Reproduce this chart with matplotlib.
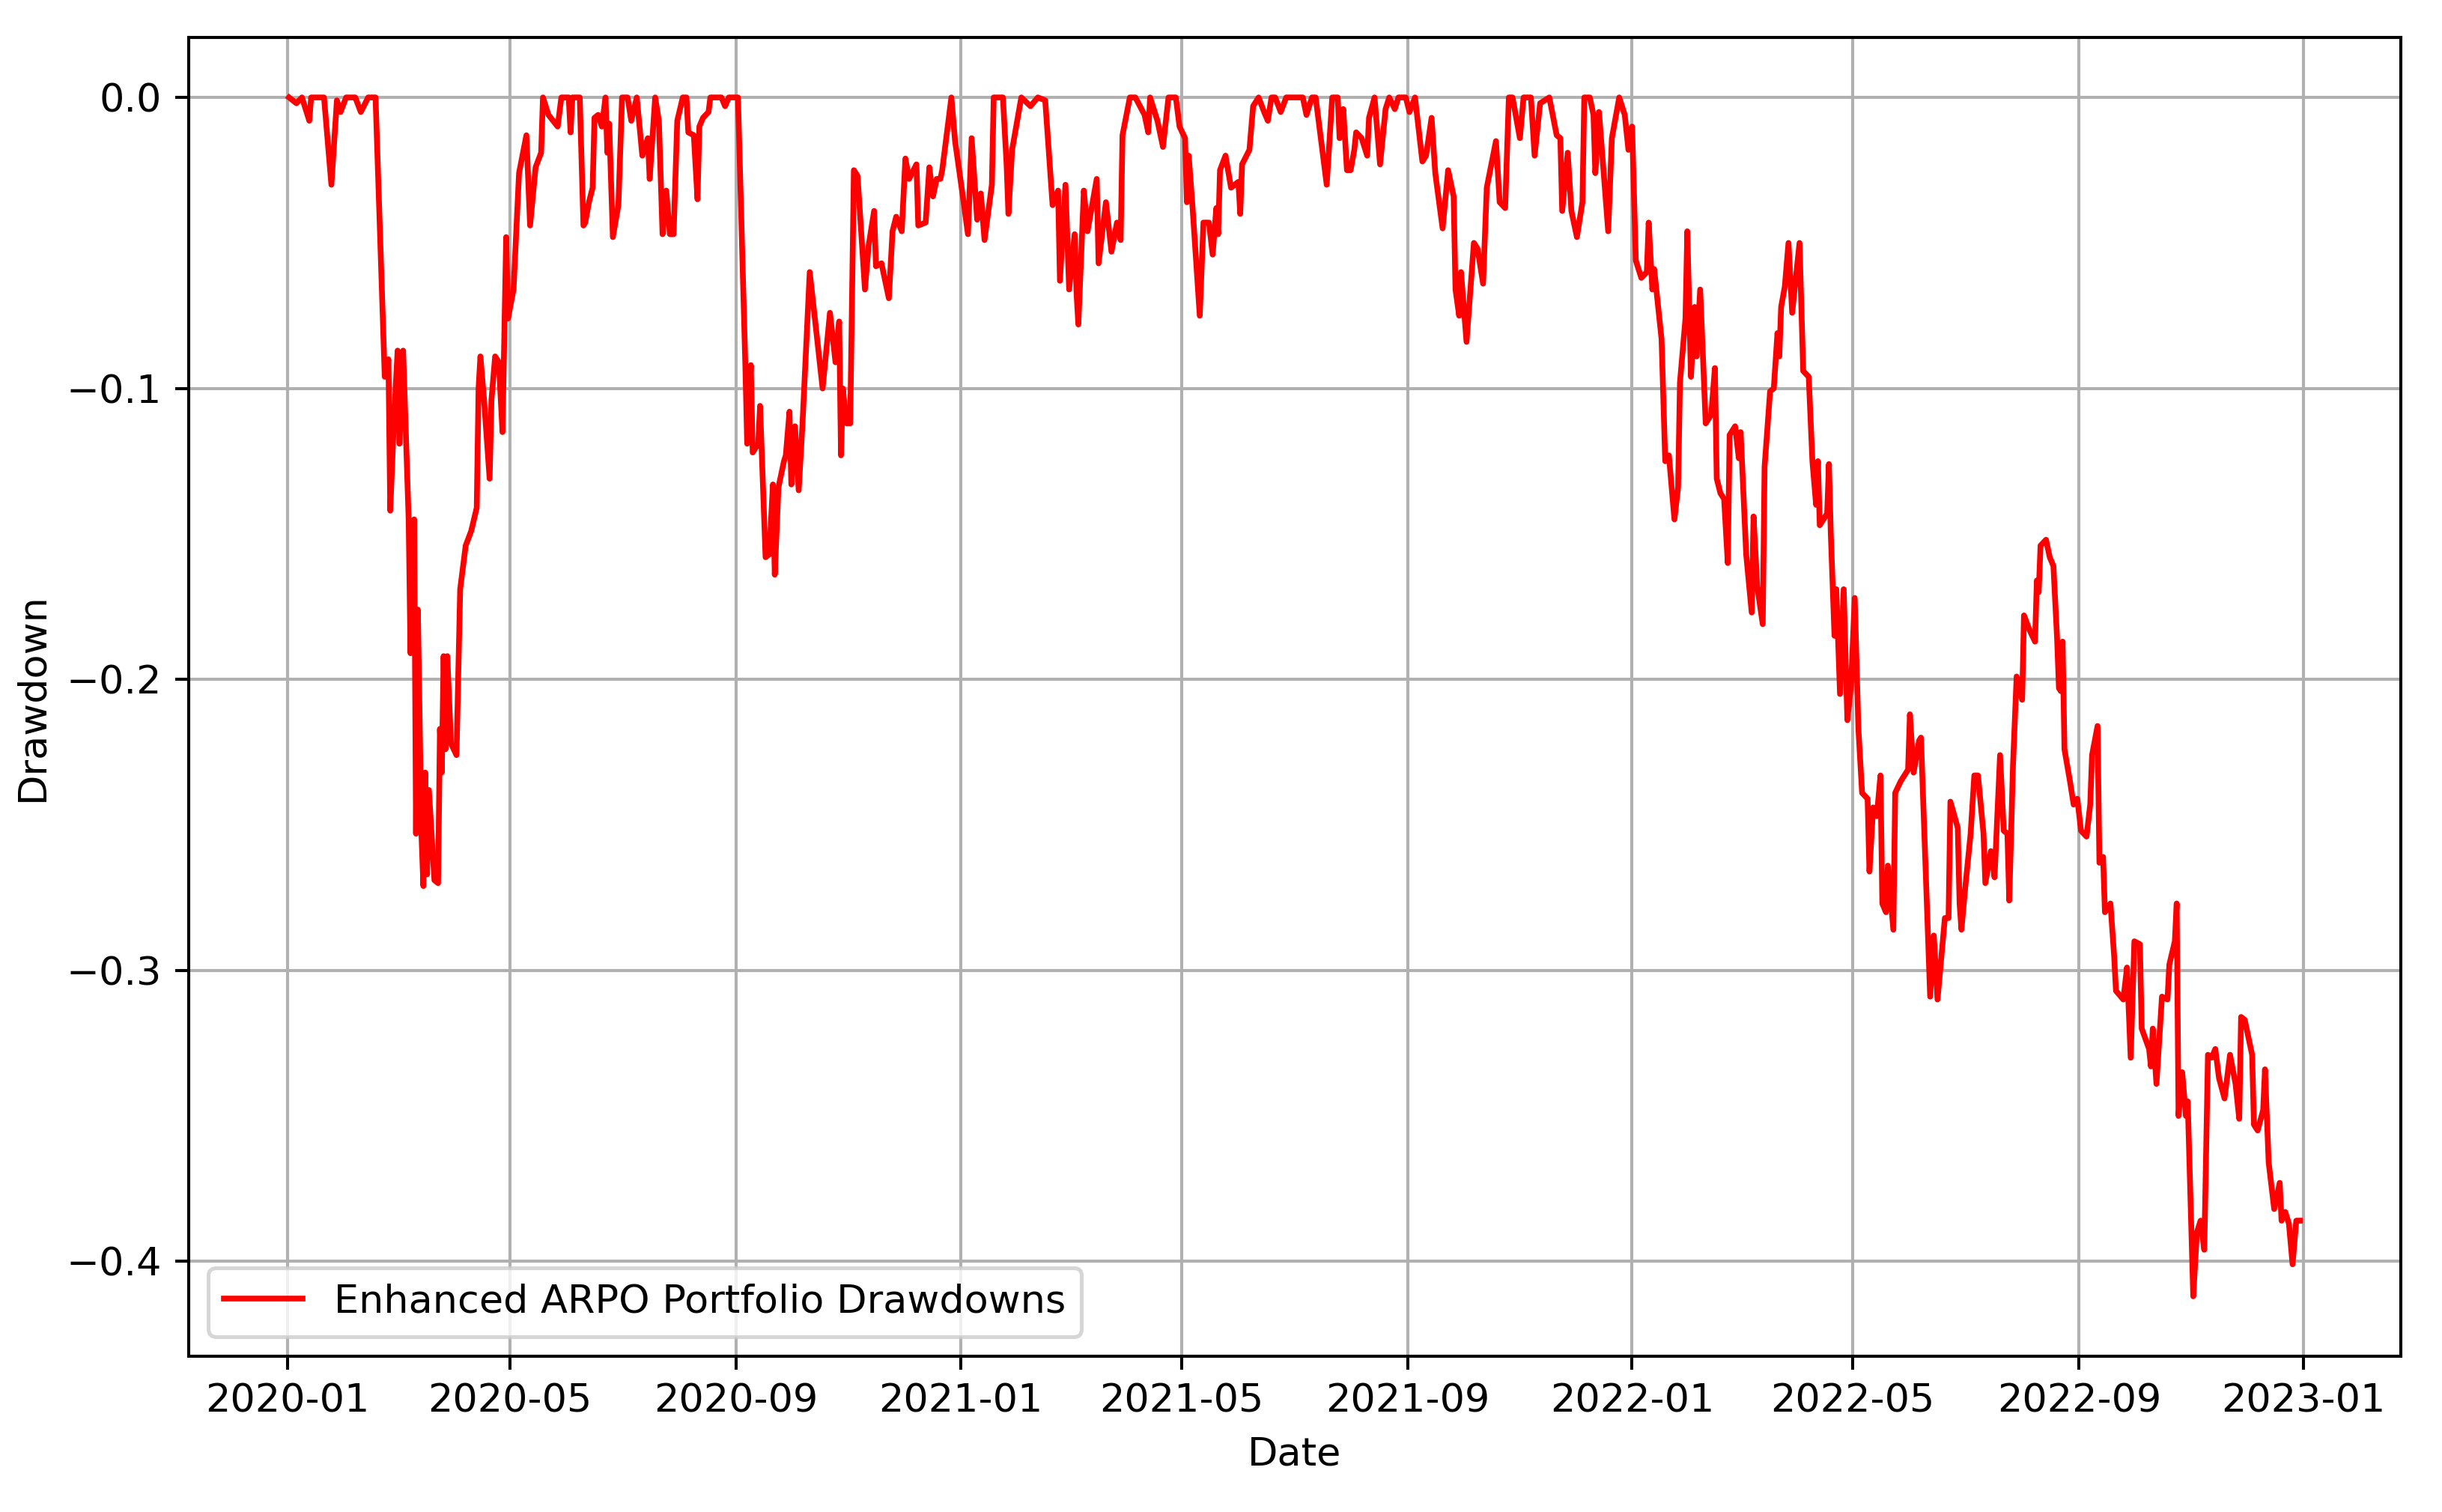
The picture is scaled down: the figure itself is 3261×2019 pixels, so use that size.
import matplotlib
matplotlib.use("Agg")
import matplotlib.pyplot as plt
import matplotlib.dates as mdates
import pandas as pd

plt.rcParams['font.size'] = 10.3

# drawdown values
dates_2020 = [
    '2020-01-02', '2020-01-06', '2020-01-09', '2020-01-13', '2020-01-14', '2020-01-21',
    '2020-01-25', '2020-01-28', '2020-01-30', '2020-02-02', '2020-02-07', '2020-02-10',
    '2020-02-14', '2020-02-18', '2020-02-23', '2020-02-25', '2020-02-26', '2020-02-28',
    '2020-03-01', '2020-03-02', '2020-03-04', '2020-03-07', '2020-03-08', '2020-03-10',
    '2020-03-11', '2020-03-12', '2020-03-14', '2020-03-15', '2020-03-16', '2020-03-17',
    '2020-03-18', '2020-03-21', '2020-03-23', '2020-03-24', '2020-03-25', '2020-03-26',
    '2020-03-27', '2020-03-28', '2020-03-30', '2020-04-02', '2020-04-04', '2020-04-07',
    '2020-04-10', '2020-04-13', '2020-04-14', '2020-04-15', '2020-04-17', '2020-04-20',
    '2020-04-21', '2020-04-23', '2020-04-25', '2020-04-27', '2020-04-29', '2020-04-30',
    '2020-05-03', '2020-05-06', '2020-05-10', '2020-05-12', '2020-05-15', '2020-05-18',
    '2020-05-19', '2020-05-22', '2020-05-27', '2020-05-29', '2020-06-02', '2020-06-03',
    '2020-06-04', '2020-06-08', '2020-06-10', '2020-06-11', '2020-06-13', '2020-06-15',
    '2020-06-16', '2020-06-18', '2020-06-20', '2020-06-22', '2020-06-23', '2020-06-24',
    '2020-06-26', '2020-06-29', '2020-07-01', '2020-07-04', '2020-07-06', '2020-07-09',
    '2020-07-12', '2020-07-15', '2020-07-16', '2020-07-19', '2020-07-21', '2020-07-23',
    '2020-07-25', '2020-07-27', '2020-07-29', '2020-07-31', '2020-08-03', '2020-08-05',
    '2020-08-06', '2020-08-09', '2020-08-11', '2020-08-12', '2020-08-14', '2020-08-17',
    '2020-08-18', '2020-08-24', '2020-08-26', '2020-08-28', '2020-09-02', '2020-09-06',
    '2020-09-07', '2020-09-09', '2020-09-10', '2020-09-13', '2020-09-14', '2020-09-17',
    '2020-09-19', '2020-09-21', '2020-09-22', '2020-09-24', '2020-09-27', '2020-09-28',
    '2020-09-30', '2020-10-01', '2020-10-03', '2020-10-05', '2020-10-07', '2020-10-11',
    '2020-10-18', '2020-10-22', '2020-10-25', '2020-10-27', '2020-10-28', '2020-10-29',
    '2020-10-31', '2020-11-02', '2020-11-04', '2020-11-06', '2020-11-10', '2020-11-12',
    '2020-11-15', '2020-11-16', '2020-11-19', '2020-11-23', '2020-11-25', '2020-11-27',
    '2020-11-30', '2020-12-02', '2020-12-04', '2020-12-08', '2020-12-09', '2020-12-13',
    '2020-12-15', '2020-12-17', '2020-12-19', '2020-12-21', '2020-12-22', '2020-12-27',
    '2020-12-29',
]
dd_2020 = [
    0.0, -0.002, 0.0, -0.008, 0.0, 0.0,
    -0.030, -0.001, -0.005, 0.0, 0.0, -0.005,
    0.0, 0.0, -0.096, -0.090, -0.142, -0.111,
    -0.087, -0.119, -0.087, -0.145, -0.191, -0.145,
    -0.253, -0.176, -0.254, -0.271, -0.232, -0.267,
    -0.238, -0.269, -0.270, -0.217, -0.232, -0.192,
    -0.224, -0.192, -0.222, -0.226, -0.169, -0.154,
    -0.149, -0.141, -0.100, -0.089, -0.104, -0.131,
    -0.104, -0.089, -0.091, -0.115, -0.048, -0.076,
    -0.066, -0.026, -0.013, -0.044, -0.024, -0.019,
    0.0, -0.006, -0.010, 0.0, 0.0, -0.012,
    0.0, 0.0, -0.044, -0.043, -0.036, -0.031,
    -0.007, -0.006, -0.010, 0.0, -0.019, -0.009,
    -0.048, -0.037, 0.0, 0.0, -0.008, 0.0,
    -0.020, -0.014, -0.028, 0.0, -0.008, -0.047,
    -0.032, -0.047, -0.047, -0.008, 0.0, 0.0,
    -0.012, -0.013, -0.035, -0.010, -0.007, -0.005,
    0.0, 0.0, -0.003, 0.0, 0.0, -0.092,
    -0.119, -0.092, -0.122, -0.119, -0.106, -0.158,
    -0.157, -0.133, -0.164, -0.134, -0.125, -0.123,
    -0.108, -0.133, -0.113, -0.135, -0.113, -0.060,
    -0.100, -0.074, -0.091, -0.077, -0.123, -0.100,
    -0.112, -0.112, -0.025, -0.027, -0.066, -0.051,
    -0.039, -0.058, -0.057, -0.069, -0.046, -0.041,
    -0.046, -0.021, -0.028, -0.023, -0.044, -0.043,
    -0.024, -0.034, -0.028, -0.028, -0.025, 0.0,
    -0.015,
]

dates_2021 = [
    '2021-01-02', '2021-01-05', '2021-01-07', '2021-01-10', '2021-01-12', '2021-01-14',
    '2021-01-18', '2021-01-19', '2021-01-24', '2021-01-26', '2021-01-27', '2021-01-29',
    '2021-02-03', '2021-02-08', '2021-02-12', '2021-02-16', '2021-02-20', '2021-02-23',
    '2021-02-24', '2021-02-27', '2021-03-01', '2021-03-04', '2021-03-05', '2021-03-06',
    '2021-03-09', '2021-03-11', '2021-03-16', '2021-03-17', '2021-03-21', '2021-03-24',
    '2021-03-27', '2021-03-29', '2021-03-30', '2021-04-03', '2021-04-06', '2021-04-11',
    '2021-04-13', '2021-04-14', '2021-04-18', '2021-04-21', '2021-04-24', '2021-04-28',
    '2021-04-30', '2021-05-03', '2021-05-04', '2021-05-05', '2021-05-07', '2021-05-11',
    '2021-05-13', '2021-05-16', '2021-05-18', '2021-05-20', '2021-05-21', '2021-05-22',
    '2021-05-25', '2021-05-28', '2021-06-01', '2021-06-02', '2021-06-03', '2021-06-07',
    '2021-06-09', '2021-06-12', '2021-06-15', '2021-06-17', '2021-06-19', '2021-06-21',
    '2021-06-24', '2021-06-27', '2021-07-06', '2021-07-08', '2021-07-11', '2021-07-13',
    '2021-07-19', '2021-07-22', '2021-07-25', '2021-07-26', '2021-07-28', '2021-07-30',
    '2021-08-01', '2021-08-03', '2021-08-04', '2021-08-07', '2021-08-10', '2021-08-11',
    '2021-08-14', '2021-08-17', '2021-08-20', '2021-08-22', '2021-08-25', '2021-08-27',
    '2021-08-31', '2021-09-02', '2021-09-05', '2021-09-09', '2021-09-11', '2021-09-14',
    '2021-09-16', '2021-09-20', '2021-09-23', '2021-09-26', '2021-09-27', '2021-09-29',
    '2021-09-30', '2021-10-03', '2021-10-07', '2021-10-09', '2021-10-12', '2021-10-14',
    '2021-10-19', '2021-10-21', '2021-10-24', '2021-10-26', '2021-10-28', '2021-11-01',
    '2021-11-03', '2021-11-07', '2021-11-09', '2021-11-12', '2021-11-17', '2021-11-21',
    '2021-11-23', '2021-11-24', '2021-11-27', '2021-11-29', '2021-12-02', '2021-12-05',
    '2021-12-06', '2021-12-09', '2021-12-11', '2021-12-12', '2021-12-14', '2021-12-19',
    '2021-12-21', '2021-12-25', '2021-12-28', '2021-12-30',
]
dd_2021 = [
    -0.033, -0.047, -0.014, -0.042, -0.033, -0.049,
    -0.030, 0.0, 0.0, -0.023, -0.040, -0.018,
    0.0, -0.003, 0.0, -0.001, -0.037, -0.032,
    -0.063, -0.030, -0.066, -0.047, -0.067, -0.078,
    -0.032, -0.046, -0.028, -0.057, -0.036, -0.053,
    -0.043, -0.049, -0.013, 0.0, 0.0, -0.006,
    -0.012, 0.0, -0.008, -0.017, 0.0, 0.0,
    -0.010, -0.014, -0.036, -0.020, -0.037, -0.075,
    -0.043, -0.043, -0.054, -0.038, -0.047, -0.025,
    -0.020, -0.031, -0.029, -0.040, -0.023, -0.018,
    -0.003, 0.0, -0.005, -0.008, 0.0, 0.0,
    -0.005, 0.0, 0.0, -0.006, 0.0, 0.0,
    -0.030, 0.0, 0.0, -0.014, -0.004, -0.025,
    -0.025, -0.018, -0.012, -0.014, -0.020, -0.007,
    0.0, -0.023, -0.004, 0.0, -0.004, 0.0,
    0.0, -0.005, 0.0, -0.022, -0.020, -0.007,
    -0.026, -0.045, -0.025, -0.034, -0.066, -0.075,
    -0.060, -0.084, -0.050, -0.052, -0.064, -0.031,
    -0.015, -0.036, -0.038, 0.0, 0.0, -0.014,
    0.0, 0.0, -0.020, -0.002, 0.0, -0.013,
    -0.014, -0.039, -0.019, -0.039, -0.048, -0.036,
    0.0, 0.0, -0.006, -0.026, -0.005, -0.046,
    -0.014, 0.0, -0.006, -0.018,
]

dates_2022 = [
    '2022-01-01', '2022-01-03', '2022-01-06', '2022-01-09', '2022-01-10', '2022-01-12',
    '2022-01-13', '2022-01-17', '2022-01-19', '2022-01-21', '2022-01-24', '2022-01-26',
    '2022-01-27', '2022-01-30', '2022-01-31', '2022-02-02', '2022-02-04', '2022-02-05',
    '2022-02-07', '2022-02-10', '2022-02-13', '2022-02-15', '2022-02-16', '2022-02-18',
    '2022-02-20', '2022-02-22', '2022-02-23', '2022-02-26', '2022-02-28', '2022-03-01',
    '2022-03-04', '2022-03-07', '2022-03-08', '2022-03-10', '2022-03-13', '2022-03-14',
    '2022-03-17', '2022-03-19', '2022-03-21', '2022-03-22', '2022-03-23', '2022-03-25',
    '2022-03-27', '2022-03-29', '2022-03-31', '2022-04-02', '2022-04-04', '2022-04-07',
    '2022-04-09', '2022-04-11', '2022-04-12', '2022-04-13', '2022-04-17', '2022-04-18',
    '2022-04-19', '2022-04-21', '2022-04-22', '2022-04-24', '2022-04-26', '2022-04-28',
    '2022-04-30', '2022-05-02', '2022-05-04', '2022-05-06', '2022-05-09', '2022-05-10',
    '2022-05-12', '2022-05-14', '2022-05-16', '2022-05-17', '2022-05-19', '2022-05-20',
    '2022-05-23', '2022-05-24', '2022-05-27', '2022-05-31', '2022-06-01', '2022-06-03',
    '2022-06-06', '2022-06-07', '2022-06-10', '2022-06-12', '2022-06-14', '2022-06-16',
    '2022-06-20', '2022-06-22', '2022-06-23', '2022-06-27', '2022-06-28', '2022-06-29',
    '2022-07-01', '2022-07-04', '2022-07-06', '2022-07-08', '2022-07-11', '2022-07-12',
    '2022-07-15', '2022-07-17', '2022-07-20', '2022-07-22', '2022-07-24', '2022-07-25',
    '2022-07-27', '2022-07-29', '2022-08-01', '2022-08-02', '2022-08-05', '2022-08-08',
    '2022-08-09', '2022-08-10', '2022-08-11', '2022-08-14', '2022-08-16', '2022-08-18',
    '2022-08-20', '2022-08-21', '2022-08-22', '2022-08-23', '2022-08-24', '2022-08-27',
    '2022-08-29', '2022-08-31', '2022-09-02', '2022-09-05', '2022-09-07', '2022-09-08',
    '2022-09-11', '2022-09-12', '2022-09-14', '2022-09-15', '2022-09-18', '2022-09-20',
    '2022-09-21', '2022-09-25', '2022-09-27', '2022-09-29', '2022-10-01', '2022-10-04',
    '2022-10-05', '2022-10-09', '2022-10-10', '2022-10-11', '2022-10-13', '2022-10-16',
    '2022-10-19', '2022-10-20', '2022-10-23', '2022-10-24', '2022-10-25', '2022-10-27',
    '2022-10-29', '2022-10-30', '2022-11-02', '2022-11-04', '2022-11-06', '2022-11-08',
    '2022-11-10', '2022-11-12', '2022-11-14', '2022-11-16', '2022-11-19', '2022-11-22',
    '2022-11-25', '2022-11-27', '2022-11-28', '2022-11-30', '2022-12-04', '2022-12-05',
    '2022-12-07', '2022-12-10', '2022-12-11', '2022-12-13', '2022-12-16', '2022-12-19',
    '2022-12-20', '2022-12-22', '2022-12-24', '2022-12-26', '2022-12-28', '2022-12-30',
]
dd_2022 = [
    -0.010, -0.056, -0.062, -0.060, -0.043, -0.066,
    -0.059, -0.083, -0.125, -0.123, -0.145, -0.134,
    -0.098, -0.076, -0.046, -0.096, -0.072, -0.089,
    -0.066, -0.112, -0.109, -0.093, -0.131, -0.136,
    -0.138, -0.160, -0.116, -0.113, -0.124, -0.115,
    -0.157, -0.177, -0.144, -0.168, -0.181, -0.127,
    -0.101, -0.100, -0.081, -0.089, -0.072, -0.065,
    -0.050, -0.074, -0.062, -0.050, -0.094, -0.096,
    -0.125, -0.140, -0.125, -0.147, -0.143, -0.126,
    -0.150, -0.185, -0.169, -0.205, -0.169, -0.214,
    -0.202, -0.172, -0.217, -0.239, -0.241, -0.266,
    -0.244, -0.247, -0.233, -0.277, -0.280, -0.264,
    -0.286, -0.239, -0.235, -0.231, -0.212, -0.232,
    -0.221, -0.220, -0.273, -0.309, -0.288, -0.310,
    -0.282, -0.282, -0.242, -0.251, -0.277, -0.286,
    -0.272, -0.253, -0.233, -0.233, -0.253, -0.270,
    -0.259, -0.268, -0.226, -0.252, -0.253, -0.276,
    -0.230, -0.199, -0.207, -0.178, -0.183, -0.187,
    -0.166, -0.170, -0.154, -0.152, -0.158, -0.161,
    -0.186, -0.203, -0.204, -0.187, -0.224, -0.235,
    -0.243, -0.241, -0.252, -0.254, -0.243, -0.226,
    -0.216, -0.263, -0.261, -0.280, -0.277, -0.295,
    -0.307, -0.310, -0.299, -0.330, -0.290, -0.291,
    -0.320, -0.327, -0.333, -0.320, -0.339, -0.309,
    -0.310, -0.298, -0.290, -0.277, -0.350, -0.335,
    -0.350, -0.345, -0.412, -0.390, -0.386, -0.396,
    -0.329, -0.330, -0.327, -0.337, -0.344, -0.329,
    -0.339, -0.351, -0.316, -0.317, -0.329, -0.353,
    -0.355, -0.348, -0.334, -0.366, -0.382, -0.373,
    -0.386, -0.383, -0.387, -0.401, -0.386, -0.386,
]

drawdowns = pd.Series(
    dd_2020 + dd_2021 + dd_2022,
    index=pd.to_datetime(dates_2020 + dates_2021 + dates_2022),
)

fig = plt.figure(figsize=(3261 / 367, 2019 / 367), dpi=367)
ax = fig.add_axes([0.0772, 0.103, 0.9058, 0.8722])

ax.plot(drawdowns.index, drawdowns.values, color='red', label='Enhanced ARPO Portfolio Drawdowns')

ax.xaxis.set_major_locator(mdates.MonthLocator(bymonth=[1, 5, 9]))
ax.xaxis.set_major_formatter(mdates.DateFormatter('%Y-%m'))
ax.set_xlabel('Date')
ax.set_ylabel('Drawdown')
ax.grid(True)
ax.legend(loc='lower left')

fig.savefig('out.png', dpi=367)
